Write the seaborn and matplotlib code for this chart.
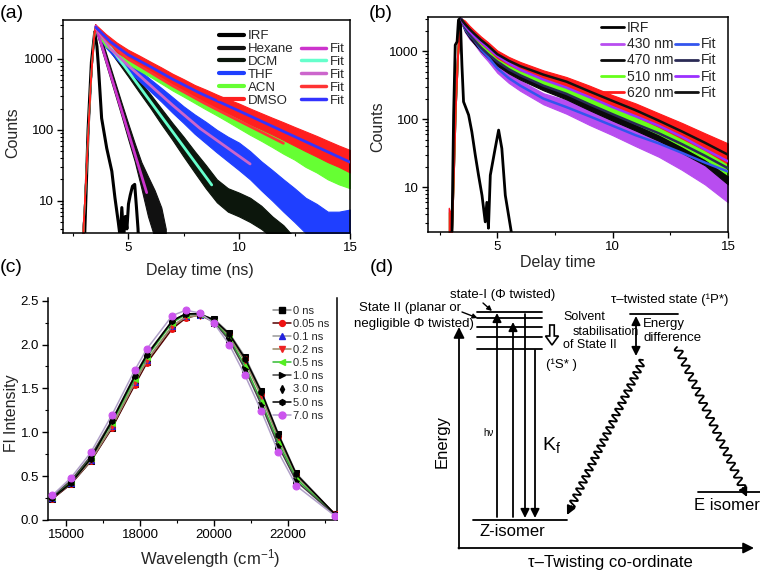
import numpy as np
import pandas as pd
import matplotlib
matplotlib.use("Agg")
import matplotlib.pyplot as plt
import matplotlib.patches as mpatches
from matplotlib.lines import Line2D
from matplotlib.ticker import FixedLocator, FixedFormatter, NullFormatter, LogLocator
import seaborn as sns

# ====================== DATA : panel (a) solvent decays ======================
A_IRF_T = [2.95, 3.05, 3.2, 3.35, 3.5, 3.6, 3.66, 3.81, 4.04, 4.27, 4.41, 4.56, 4.65, 4.72,
           4.8, 4.88, 4.95, 5.02, 5.1, 5.2, 5.3, 5.38, 5.45, 5.52]
A_IRF_V = [1.0, 3.5, 100, 900, 2400, 1500, 830, 146, 55, 26, 11, 5, 3, 8,
           3, 6, 4, 9, 12, 16, 17, 8, 4, 1.0]

A_HEX_T = [2.95, 3.0, 3.15, 3.3, 3.45, 3.52, 3.8, 4.1, 4.4, 4.7, 5.0, 5.3, 5.6, 5.9, 6.2, 6.5, 6.7]
A_HEX_LO = [1, 5, 45, 400, 1900, 2700, 1400, 680, 330, 160, 75, 36, 15, 6, 3, 2, 2]
A_HEX_HI = [4, 7, 65, 560, 2400, 3100, 1950, 980, 490, 245, 125, 65, 35, 22, 14, 8, 4]

A_DCM_T = [2.95, 3.0, 3.15, 3.3, 3.45, 3.52, 4.0, 4.5, 5.0, 5.5, 6.0, 6.5, 7.0, 7.5, 8.0, 8.5,
           9.0, 9.5, 10.0, 10.5, 11.0, 11.5, 12.0, 12.5]
A_DCM_LO = [1, 5, 45, 400, 1900, 2500, 1550, 940, 570, 340, 205, 120, 72, 42, 25, 15,
            9.5, 7, 6, 5, 4, 3, 2, 2]
A_DCM_HI = [4, 7, 65, 560, 2400, 3000, 2050, 1280, 800, 500, 320, 200, 125, 80, 50, 32,
            20, 15, 13, 11, 8.5, 6, 4.5, 3]

A_LONG_T = [2.95, 3.0, 3.15, 3.3, 3.45, 3.52, 4.0, 4.5, 5.0, 5.5, 6.0, 6.5, 7.0, 7.5, 8.0, 8.5,
            9.0, 9.5, 10.0, 10.5, 11.0, 11.5, 12.0, 12.5, 13.0, 13.5, 14.0, 14.5, 15.0]
A_THF_LO = [1, 5, 45, 400, 1900, 2500, 1450, 980, 690, 490, 350, 250, 175, 125, 88, 65,
            48, 36, 27, 20, 14, 10, 7, 5, 3.5, 2, 2, 2, 2]
A_THF_HI = [4, 7, 65, 560, 2400, 3000, 1950, 1350, 960, 700, 520, 390, 290, 215, 165, 130,
            100, 80, 66, 50, 36, 27, 20, 15, 11, 9, 7, 7, 7.5]
A_ACN_LO = [1, 5, 45, 400, 1900, 2500, 1500, 1150, 850, 690, 560, 450, 360, 295, 240, 195,
            160, 130, 105, 85, 70, 57, 46, 38, 30, 25, 20, 17, 15]
A_ACN_HI = [4, 7, 65, 560, 2400, 3000, 2000, 1500, 1150, 920, 750, 600, 480, 395, 330, 270,
            230, 190, 160, 130, 110, 90, 75, 62, 55, 47, 42, 38, 35]
A_DMSO_LO = [1, 5, 45, 400, 1900, 2600, 1700, 1250, 990, 810, 660, 540, 440, 360, 295, 245,
             205, 172, 145, 120, 102, 86, 72, 60, 50, 42, 35, 30, 25]
A_DMSO_HI = [4, 7, 65, 560, 2400, 3100, 2250, 1700, 1350, 1120, 920, 760, 620, 520, 430, 370,
             315, 270, 235, 200, 172, 148, 128, 110, 95, 82, 70, 60, 52]

A_FIT_HEX_T, A_FIT_HEX_V = [3.55, 5.84], [2900, 13]
A_FIT_DCM_T, A_FIT_DCM_V = [3.55, 8.77], [2800, 16.7]
A_FIT_THF_T = [3.55, 4.2, 5.0, 6.0, 7.0, 8.24, 10.5]
A_FIT_THF_V = [2800, 1400, 815, 427, 224, 105, 33]
A_FIT_ACN_T = [3.55, 4.2, 5.0, 6.0, 7.0, 8.45, 10.0, 12.0]
A_FIT_ACN_V = [2800, 1650, 1000, 650, 420, 237, 134, 64.6]
A_FIT_DMSO_T = [3.55, 4.2, 5.0, 6.0, 7.0, 8.24, 10.0, 12.0, 15.0]
A_FIT_DMSO_V = [2800, 1750, 1150, 780, 520, 330, 185, 95, 35]

A_LEG_DATA = ["IRF", "Hexane", "DCM", "THF", "ACN", "DMSO"]

# ====================== DATA : panel (b) emission-wavelength decays ======================
B_IRF_T = [2.9, 3.04, 3.11, 3.18, 3.26, 3.32, 3.40, 3.47, 3.54, 3.76, 3.90, 4.05, 4.19, 4.34,
           4.48, 4.55, 4.62, 4.70, 4.91, 5.06, 5.20, 5.35, 5.49, 5.61]
B_IRF_V = [1.0, 2.2, 114, 1225, 1370, 2860, 3020, 623, 180, 115, 65, 29.5, 15, 7.6,
           3.1, 6, 2.5, 15, 37, 69, 37, 7.6, 3.9, 2.2]

B_T = [2.9, 3.0, 3.1, 3.2, 3.3, 3.45, 3.6, 3.8, 4.0, 4.3, 4.6, 5.0, 5.5, 6.0, 7.0, 8.0,
       9.0, 10.0, 11.0, 12.0, 13.0, 14.0, 15.0]
B_430_LO = [1, 1, 10, 150, 900, 2600, 1900, 1500, 1270, 920, 710, 480, 340, 260, 165, 120,
            82, 58, 40, 28, 18, 11, 6]
B_430_HI = [4.9, 1, 25, 350, 1500, 3000, 2400, 1900, 1640, 1200, 940, 650, 470, 370, 240, 190,
            140, 105, 80, 62, 48, 36, 20]
B_470_LO = [1, 1, 10, 150, 900, 2600, 1950, 1550, 1280, 990, 790, 610, 470, 380, 265, 195,
            135, 95, 68, 48, 32, 21, 11]
B_470_HI = [1, 1, 25, 350, 1500, 3000, 2500, 1950, 1620, 1260, 1020, 800, 620, 510, 360, 280,
            200, 145, 108, 80, 58, 40, 28]
B_510_LO = [1, 1, 10, 150, 900, 2600, 2050, 1700, 1450, 1180, 960, 740, 570, 450, 320, 240,
            170, 120, 85, 60, 40, 26, 15]
B_510_HI = [4.3, 3, 25, 350, 1500, 3000, 2650, 2200, 1860, 1520, 1240, 960, 750, 610, 440, 340,
            250, 180, 135, 100, 70, 48, 33]
B_620_LO = [1, 1, 10, 150, 900, 2600, 2250, 1880, 1600, 1290, 1060, 790, 630, 520, 390, 300,
            215, 155, 110, 77, 52, 35, 22]
B_620_HI = [5, 4, 25, 350, 1500, 3000, 2800, 2350, 2020, 1630, 1350, 1020, 820, 690, 520, 415,
            310, 225, 170, 122, 88, 62, 44]

B_FIT_T = [3.45, 3.6, 3.8, 4.0, 4.3, 4.6, 5.0, 5.5, 6.0, 7.0, 8.0, 9.0, 10.0, 11.0, 12.0, 13.0, 14.0, 15.0]
B_FIT_430 = [2900, 2150, 1700, 1450, 1050, 820, 560, 400, 310, 200, 150, 110, 80, 58, 44, 32, 23, 17]
B_FIT_470 = [2900, 2250, 1750, 1450, 1120, 900, 700, 540, 440, 310, 235, 165, 118, 85, 62, 43, 29, 19]
B_FIT_510 = [2900, 2350, 1950, 1650, 1350, 1100, 850, 660, 530, 380, 290, 210, 150, 110, 80, 55, 36, 24]
B_FIT_620 = [2900, 2500, 2100, 1800, 1450, 1200, 900, 720, 600, 450, 355, 255, 185, 135, 95, 66, 45, 30]

B_LEG_DATA = ["IRF", "430 nm", "470 nm", "510 nm", "620 nm"]

# ====================== DATA : panel (c) time-resolved spectra ======================
C_WAVENUMBER = [15625, 16129, 16667, 17241, 17857, 18182, 18868, 19231, 19608, 20000,
                20408, 20833, 21277, 21739, 22222, 23256]
C_LABELS = ["0 ns", "0.05 ns", "0.1 ns", "0.2 ns", "0.5 ns", "1.0 ns", "3.0 ns", "5.0 ns", "7.0 ns"]
C_0 = [0.24, 0.41, 0.67, 1.05, 1.55, 1.80, 2.19, 2.31, 2.34, 2.29, 2.13, 1.86, 1.47, 0.98, 0.53, 0.07]
C_005 = [0.24, 0.41, 0.67, 1.05, 1.54, 1.79, 2.18, 2.30, 2.34, 2.27, 2.11, 1.83, 1.43, 0.95, 0.51, 0.07]
C_01 = [0.25, 0.42, 0.68, 1.07, 1.57, 1.82, 2.21, 2.32, 2.34, 2.27, 2.10, 1.82, 1.42, 0.93, 0.50, 0.07]
C_02 = [0.25, 0.42, 0.68, 1.07, 1.57, 1.82, 2.21, 2.31, 2.33, 2.26, 2.09, 1.81, 1.41, 0.93, 0.50, 0.07]
C_05 = [0.26, 0.44, 0.71, 1.11, 1.61, 1.86, 2.25, 2.34, 2.35, 2.26, 2.07, 1.76, 1.35, 0.88, 0.47, 0.06]
C_10 = [0.27, 0.45, 0.73, 1.14, 1.65, 1.89, 2.27, 2.35, 2.35, 2.25, 2.05, 1.72, 1.31, 0.84, 0.44, 0.06]
C_30 = [0.27, 0.46, 0.74, 1.15, 1.66, 1.90, 2.28, 2.36, 2.35, 2.25, 2.04, 1.70, 1.30, 0.83, 0.43, 0.06]
C_50 = [0.25, 0.42, 0.70, 1.13, 1.64, 1.88, 2.27, 2.35, 2.35, 2.28, 2.12, 1.84, 1.46, 0.97, 0.52, 0.07]
C_70 = [0.28, 0.48, 0.77, 1.20, 1.71, 1.95, 2.33, 2.39, 2.36, 2.24, 2.00, 1.65, 1.24, 0.77, 0.39, 0.05]
C_XTICKS = [16000, 18000, 20000, 22000]
C_XTICKLABELS = ["15000", "18000", "20000", "22000"]
C_XMINOR = [17000, 19000, 21000, 23000]

# ====================== styling ======================
W, H = 760, 578
A_DATA_COLORS = ["black", "#111111", "#0c160c", "#1f3fff", "#66ff33", "#ff1f1f"]
A_FIT_COLORS = ["#cc33cc", "#66ffcc", "#cc66cc", "#ff3333", "#3333ff"]
B_DATA_COLORS = ["black", "#b84df0", "#0a0a0a", "#66ff1a", "#ff1a1a"]
B_FIT_COLORS = ["#3355ee", "#2a2a55", "#9b30ff", "#111111"]
C_LINE_COLORS = ["#888888", "#550000", "#999999", "#998866", "#33bb33", "#444444", "none", "black", "#b0a0c8"]
C_MARKERS = ["s", "o", "^", "v", "<", ">", "d", "h", "o"]
C_MCOLORS = ["black", "#ee1111", "#2222dd", "#ee2222", "#55ee22", "black", "black", "black", "#cc55ee"]

sns.set_theme(style="ticks")
plt.rcParams["font.family"] = ["Liberation Sans", "DejaVu Sans"]
plt.rcParams["mathtext.fontset"] = "custom"
plt.rcParams["mathtext.rm"] = "Liberation Sans"
plt.rcParams["mathtext.it"] = "Liberation Sans:italic"
plt.rcParams["mathtext.default"] = "regular"

fig = plt.figure(figsize=(W / 100, H / 100), dpi=100)
fig.patch.set_facecolor("white")


def rect(l, t, r, b):
    return [l / W, 1 - b / H, (r - l) / W, (b - t) / H]


def style_axes(ax):
    for s in ax.spines.values():
        s.set_linewidth(1.1)
        s.set_color("black")
    ax.tick_params(which="major", direction="out", length=4, width=1.0,
                   labelsize=9.5, pad=2.5, colors="black")
    ax.tick_params(which="minor", direction="out", length=2.5, width=0.8, colors="black")
    ax.set_facecolor("white")


def log_axis(ax, ylim):
    ax.set_yscale("log")
    ax.set_ylim(*ylim)
    ax.yaxis.set_major_locator(FixedLocator([10, 100, 1000]))
    ax.yaxis.set_major_formatter(FixedFormatter(["10", "100", "1000"]))
    ax.yaxis.set_minor_locator(LogLocator(base=10, subs=np.arange(2, 10)))
    ax.yaxis.set_minor_formatter(NullFormatter())
    ax.xaxis.set_major_locator(FixedLocator([5, 10, 15]))
    ax.xaxis.set_minor_locator(FixedLocator([2.5, 7.5, 12.5]))


def line(ax, x, y, **kw):
    sns.lineplot(x=x, y=y, ax=ax, sort=False, estimator=None, **kw)


# ---------------------------- panel (a) ----------------------------
axA = fig.add_axes(rect(63, 20, 350, 233))
style_axes(axA)
line(axA, A_IRF_T, A_IRF_V, color=A_DATA_COLORS[0], lw=2.2, zorder=2)
bandsA = [(A_HEX_T, A_HEX_LO, A_HEX_HI), (A_DCM_T, A_DCM_LO, A_DCM_HI),
          (A_LONG_T, A_THF_LO, A_THF_HI), (A_LONG_T, A_ACN_LO, A_ACN_HI),
          (A_LONG_T, A_DMSO_LO, A_DMSO_HI)]
for (t, lo, hi), col in zip(bandsA, A_DATA_COLORS[1:]):
    axA.fill_between(t, lo, hi, color=col, lw=0.8, zorder=2)
fitsA = [(A_FIT_HEX_T, A_FIT_HEX_V), (A_FIT_DCM_T, A_FIT_DCM_V), (A_FIT_THF_T, A_FIT_THF_V),
         (A_FIT_ACN_T, A_FIT_ACN_V), (A_FIT_DMSO_T, A_FIT_DMSO_V)]
for (t, v), col in zip(fitsA, A_FIT_COLORS):
    line(axA, t, v, color=col, lw=2.0, zorder=3)
axA.set_xlim(2.07, 15)
log_axis(axA, (3.5, 3550))
axA.set_xlabel("Delay time (ns)", fontsize=11.5)
axA.set_ylabel("Counts", fontsize=11.5)
axA.xaxis.set_label_coords(0.477, -0.14)
axA.yaxis.set_label_coords(-0.15, 0.47)
hA = [Line2D([], [], color=c, lw=3) for c in A_DATA_COLORS]
hA += [Line2D([], [], color="none")] + [Line2D([], [], color=c, lw=2.5) for c in A_FIT_COLORS]
axA.legend(hA, A_LEG_DATA + [""] + ["Fit"] * 5, ncol=2, loc="upper left",
           bbox_to_anchor=(0.545, 0.953), frameon=False, fontsize=9.5, handlelength=1.9,
           handletextpad=0.25, columnspacing=0.6, labelspacing=0.05, borderpad=0, borderaxespad=0)

# ---------------------------- panel (b) ----------------------------
axB = fig.add_axes(rect(428, 17, 728, 232))
style_axes(axB)
bandsB = [(B_430_LO, B_430_HI), (B_470_LO, B_470_HI), (B_510_LO, B_510_HI), (B_620_LO, B_620_HI)]
for (lo, hi), col in zip(bandsB, B_DATA_COLORS[1:]):
    axB.fill_between(B_T, lo, hi, color=col, lw=0.8, zorder=2)
line(axB, B_IRF_T, B_IRF_V, color=B_DATA_COLORS[0], lw=2.0, zorder=3)
for v, col in zip([B_FIT_430, B_FIT_470, B_FIT_510, B_FIT_620], B_FIT_COLORS):
    line(axB, B_FIT_T, v, color=col, lw=1.8, zorder=4)
axB.set_xlim(2.0, 15)
log_axis(axB, (2.2, 3160))
axB.set_xlabel("Delay time", fontsize=11.5)
axB.set_ylabel("Counts", fontsize=11.5)
axB.xaxis.set_label_coords(0.433, -0.105)
axB.yaxis.set_label_coords(-0.143, 0.49)
hB = [Line2D([], [], color=c, lw=2) for c in B_DATA_COLORS]
hB += [Line2D([], [], color="none")] + [Line2D([], [], color=c, lw=2) for c in B_FIT_COLORS]
axB.legend(hB, B_LEG_DATA + [""] + ["Fit"] * 4, ncol=2, loc="upper left",
           bbox_to_anchor=(0.578, 0.98), frameon=False, fontsize=10, handlelength=1.65,
           handletextpad=0.2, columnspacing=0.1, labelspacing=0.15, borderpad=0, borderaxespad=0)

# ---------------------------- panel (c) ----------------------------
axC = fig.add_axes(rect(48, 298, 337, 520))
style_axes(axC)
axC.spines["top"].set_visible(False)
C_SERIES = [C_0, C_005, C_01, C_02, C_05, C_10, C_30, C_50, C_70]
hC = []
for vals, lc, mk, mc, lab in zip(C_SERIES, C_LINE_COLORS, C_MARKERS, C_MCOLORS, C_LABELS):
    ms = 5.0 if lab == "7.0 ns" else (4.0 if mk == "d" else 4.2)
    lw = 0 if lc == "none" else 1.1
    line(axC, C_WAVENUMBER, vals, color=(lc if lc != "none" else "black"), lw=lw, marker=mk,
         markersize=ms, markerfacecolor=mc, markeredgecolor=mc, zorder=3)
    hC.append(Line2D([], [], color=lc, lw=lw, marker=mk, markersize=ms,
                     markerfacecolor=mc, markeredgecolor=mc))
axC.set_xlim(15510, 23320)
axC.set_ylim(0, 2.53)
axC.xaxis.set_major_locator(FixedLocator(C_XTICKS))
axC.xaxis.set_major_formatter(FixedFormatter(C_XTICKLABELS))
axC.xaxis.set_minor_locator(FixedLocator(C_XMINOR))
axC.yaxis.set_major_locator(FixedLocator([0, 0.5, 1.0, 1.5, 2.0, 2.5]))
axC.yaxis.set_major_formatter(FixedFormatter(["0.0", "0.5", "1.0", "1.5", "2.0", "2.5"]))
axC.yaxis.set_minor_locator(FixedLocator([0.25, 0.75, 1.25, 1.75, 2.25]))
axC.set_xlabel("Wavelength (cm$^{-1}$)", fontsize=12)
axC.set_ylabel("Fl Intensity", fontsize=11.5)
axC.xaxis.set_label_coords(0.56, -0.12)
axC.yaxis.set_label_coords(-0.102, 0.482)
axC.legend(hC, C_LABELS, loc="upper left", bbox_to_anchor=(0.78, 0.965), frameon=False,
           fontsize=8, handlelength=1.6, handletextpad=0.15, labelspacing=0.28,
           borderpad=0, borderaxespad=0)

# ---------------------------- panel (d) schematic ----------------------------
axD = fig.add_axes([0, 0, 1, 1], zorder=5)
axD.set_xlim(0, W)
axD.set_ylim(H, 0)
axD.axis("off")
axD.patch.set_alpha(0)

D_LW = 1.3
D_AXIS_ORIGIN = (459, 548)
D_AXIS_YTOP = 327
D_AXIS_XEND = 754
D_LEVELS_Y = [312, 318, 326.5, 337, 349]
D_LEVELS_X = (477, 542)
D_FLAT_LEVELS = [(473, 567, 520), (698, 760, 492), (630, 678, 314)]
D_UP_ARROWS = [(497, 517, 313), (513, 517, 322)]
D_DOWN_ARROWS = [(525, 314, 518), (535, 350, 518)]
D_POINTER_ARROWS = [((483, 303), (492, 311)), ((462, 312), (477.5, 318))]
D_WAVY = [((643, 360), (567, 515), 24), ((677, 347), (747, 497), 19)]
D_TEXTS = [
    (503, 295, "state-I (Φ twisted)", 9.5, "center", 0),
    (461, 308, "State II (planar or", 9.5, "right", 0),
    (474, 324, "negligible Φ twisted)", 9.5, "right", 0),
    (563, 317, "Solvent", 9, "left", 0),
    (573, 332, "stabilisation", 9, "left", 0),
    (563, 345, "of State II", 9, "left", 0),
    (546, 365, "(¹S* )", 9.5, "left", 0),
    (670, 300, "τ–twisted state (¹P*)", 9.5, "center", 0),
    (643, 324, "Energy", 9.5, "left", 0),
    (643, 338, "difference", 9.5, "left", 0),
    (488, 433, "hν", 7, "center", 0),
    (542, 445, "K$_f$", 14, "left", 0),
    (512, 532, "Z-isomer", 12, "center", 0),
    (727, 505, "E isomer", 12, "center", 0),
    (442, 442, "Energy", 12, "center", 90),
    (610, 563, "τ–Twisting co-ordinate", 12, "center", 0),
]


def arrow(p_from, p_to, style="-|>", ms=12, lw=D_LW):
    axD.annotate("", xy=p_to, xytext=p_from,
                 arrowprops=dict(arrowstyle=style, color="black", lw=lw, mutation_scale=ms,
                                 shrinkA=0, shrinkB=0))


ox, oy = D_AXIS_ORIGIN
arrow((ox, oy + 0.6), (ox, D_AXIS_YTOP), ms=16)
arrow((ox - 0.6, oy), (D_AXIS_XEND, oy), ms=16)
for y in D_LEVELS_Y:
    axD.plot(D_LEVELS_X, [y, y], color="black", lw=D_LW)
for x0, x1, y in D_FLAT_LEVELS:
    axD.plot([x0, x1], [y, y], color="black", lw=D_LW)
for x, yb, yt in D_UP_ARROWS:
    arrow((x, yb), (x, yt), ms=13)
for x, yt, yb in D_DOWN_ARROWS:
    arrow((x, yt), (x, yb), ms=13)
for p0, p1 in D_POINTER_ARROWS:
    arrow(p0, p1, ms=7, lw=1.0)
axD.add_patch(mpatches.FancyArrow(552, 325, 0, 20, width=4.5, head_width=13, head_length=9,
                                  length_includes_head=True, fc="white", ec="black", lw=1.2))
arrow((636, 335), (636, 316), ms=13)
arrow((636, 335), (636, 356), ms=13)


def wavy(p0, p1, n_waves, amp=3.5, head=9.0):
    p0, p1 = np.asarray(p0, float), np.asarray(p1, float)
    d = p1 - p0
    L = np.hypot(*d)
    u = d / L
    nv = np.array([-u[1], u[0]])
    s = np.linspace(0, L - head, 500)
    off = amp * np.sin(2 * np.pi * n_waves * s / (L - head))
    pts = p0 + np.outer(s, u) + np.outer(off, nv)
    axD.plot(pts[:, 0], pts[:, 1], color="black", lw=1.3)
    arrow(tuple(p0 + u * (L - head - 1)), tuple(p1), ms=13, lw=1.3)


for p0, p1, n in D_WAVY:
    wavy(p0, p1, n)

for x, y, s, fs, ha, rot in D_TEXTS:
    axD.text(x, y, s, fontsize=fs, ha=ha, va="center", rotation=rot, color="black")

# panel letters
for x, y, s in [(0, 13, "(a)"), (369, 13, "(b)"), (0, 267, "(c)"), (370, 268, "(d)")]:
    axD.text(x, y, s, fontsize=14, ha="left", va="center", color="black")

fig.savefig("out.png", dpi=100, facecolor="white")
